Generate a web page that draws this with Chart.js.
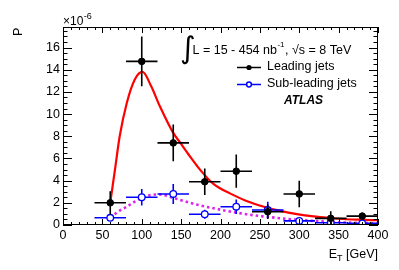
<!DOCTYPE html>
<html>
<head>
<meta charset="utf-8">
<script src="https://cdn.jsdelivr.net/npm/chart.js@4.4.0/dist/chart.umd.min.js"></script>
<style>
  html, body { margin: 0; padding: 0; background: #fff; }
  #wrap { width: 399px; height: 270px; }
</style>
</head>
<body>
<div id="wrap"><canvas id="c" width="399" height="270"></canvas></div>
<script>
// bins (GeV)
const binCenters = [60, 100, 140, 180, 220, 260, 300, 340, 380];
const binHalfWidth = [20, 20, 20, 20, 20, 20, 20, 20, 20];

// measured P values (x 1e-6)
const leading = [2.0, 14.75, 7.4, 3.9, 4.85, 1.2, 2.8, 0.6, 0.8];
const leadingErr = [1.05, 2.25, 1.65, 1.2, 1.5, 0.65, 1.2, 0.65, 0.3];
const subLeading = [0.65, 2.5, 2.8, 0.97, 1.65, 1.35, 0.37, 0.2, 0.15];
const subLeadingErr = [0.25, 0.75, 0.9, 0.4, 0.65, 0.75, 0.2, 0.15, 0.1];

// fitted curves
const fitX = [60, 66, 72, 81, 91, 101, 112, 123, 140, 149, 159, 175, 191, 212, 233, 255, 276, 297, 318, 339, 360, 380, 400];
const fitLeading = [2.0, 5.0, 8.0, 11.0, 13.1, 13.8, 12.5, 10.7, 8.3, 7.4, 6.4, 4.9, 3.7, 2.85, 2.17, 1.65, 1.27, 0.98, 0.77, 0.63, 0.52, 0.47, 0.43];
const fitSubLeading = [0.67, 1.0, 1.3, 1.65, 2.1, 2.48, 2.7, 2.75, 2.45, 2.25, 2.05, 1.75, 1.51, 1.22, 0.97, 0.77, 0.61, 0.48, 0.37, 0.29, 0.22, 0.18, 0.15];

const xTicks = [0, 50, 100, 150, 200, 250, 300, 350, 400];
const yTicks = [0, 2, 4, 6, 8, 10, 12, 14, 16];

const FONT = '"Liberation Sans", Arial, Helvetica, sans-serif';

function pts(xs, ys) {
    return xs.map((x, i) => ({ x: x, y: ys[i] }));
}

// error bars, drawn just before each marker dataset
const errorBars = {
    id: 'errorBars',
    beforeDatasetDraw(chart, args) {
        const ds = chart.data.datasets[args.index];
        if (!ds.errY) return;
        const xs = chart.scales.x, ys = chart.scales.y;
        const ctx = chart.ctx;
        ctx.save();
        ctx.strokeStyle = ds.errColor;
        ctx.lineWidth = 1.6;
        ds.data.forEach((p, i) => {
            const px = xs.getPixelForValue(p.x);
            const py = ys.getPixelForValue(p.y);
            ctx.beginPath();
            ctx.moveTo(xs.getPixelForValue(p.x - ds.errX[i]), py);
            ctx.lineTo(xs.getPixelForValue(p.x + ds.errX[i]), py);
            ctx.moveTo(px, ys.getPixelForValue(Math.max(0, p.y - ds.errY[i])));
            ctx.lineTo(px, ys.getPixelForValue(p.y + ds.errY[i]));
            ctx.stroke();
        });
        ctx.restore();
    }
};

// ROOT style frame, inward ticks and the extra text
const decorations = {
    id: 'decorations',
    afterDraw(chart) {
        const ctx = chart.ctx;
        const a = chart.chartArea;
        const xs = chart.scales.x, ys = chart.scales.y;
        ctx.save();
        ctx.strokeStyle = '#000';
        ctx.lineWidth = 1;
        ctx.strokeRect(a.left + 0.5, a.top + 0.5, a.right - a.left - 1, a.bottom - a.top - 1);

        ctx.beginPath();
        for (let v = 0; v <= 400; v += 10) {
            const px = Math.round(xs.getPixelForValue(v)) + 0.5;
            const len = v % 50 === 0 ? 6 : 3;
            ctx.moveTo(px, a.bottom); ctx.lineTo(px, a.bottom - len);
            ctx.moveTo(px, a.top); ctx.lineTo(px, a.top + len);
        }
        for (let v = 0; v <= 17.8; v += 0.5) {
            const py = Math.round(ys.getPixelForValue(v)) + 0.5;
            const len = v % 2 === 0 ? 9 : 4.5;
            ctx.moveTo(a.left, py); ctx.lineTo(a.left + len, py);
            ctx.moveTo(a.right, py); ctx.lineTo(a.right - len, py);
        }
        ctx.stroke();

        ctx.fillStyle = '#000';
        ctx.textBaseline = 'alphabetic';

        // y title
        ctx.save();
        ctx.translate(22, 36);
        ctx.rotate(-Math.PI / 2);
        ctx.font = '12.5px ' + FONT;
        ctx.textAlign = 'left';
        ctx.fillText('P', 0, 0);
        ctx.restore();

        // exponent
        ctx.textAlign = 'left';
        ctx.font = '12px ' + FONT;
        ctx.fillText('\u00d710', 63, 25);
        let w = ctx.measureText('\u00d710').width;
        ctx.font = '9px ' + FONT;
        ctx.fillText('-6', 63 + w + 0.5, 19);

        // x title, right aligned with the frame
        ctx.font = '12.5px ' + FONT;
        const wE = ctx.measureText('E').width;
        const rest = ' [GeV]';
        const wR = ctx.measureText(rest).width;
        ctx.font = '9px ' + FONT;
        const wT = ctx.measureText('T').width;
        let x0 = a.right - (wE + wT + wR);
        ctx.font = '12.5px ' + FONT;
        ctx.fillText('E', x0, 258);
        ctx.font = '9px ' + FONT;
        ctx.fillText('T', x0 + wE, 261);
        ctx.font = '12.5px ' + FONT;
        ctx.fillText(rest, x0 + wE + wT, 258);

        // luminosity header
        ctx.font = '30px "DejaVu Sans", sans-serif';
        ctx.fillText('\u222b', 180, 58);
        ctx.font = '12.5px ' + FONT;
        let tx = 192.5;
        ctx.fillText('L = 15 - 454 nb', tx, 53.5);
        tx += ctx.measureText('L = 15 - 454 nb').width;
        ctx.font = '8px ' + FONT;
        ctx.fillText('-1', tx + 0.5, 47);
        tx += ctx.measureText('-1').width + 1;
        ctx.font = '12.5px ' + FONT;
        ctx.fillText(', \u221as = 8 TeV', tx, 53.5);

        // legend entries
        ctx.lineWidth = 1.5;
        ctx.strokeStyle = '#000';
        ctx.beginPath(); ctx.moveTo(237, 67.5); ctx.lineTo(261, 67.5); ctx.stroke();
        ctx.beginPath(); ctx.arc(249, 67.5, 2.6, 0, Math.PI * 2); ctx.fill();
        ctx.strokeStyle = '#0000ff';
        ctx.beginPath(); ctx.moveTo(237, 84.5); ctx.lineTo(261, 84.5); ctx.stroke();
        ctx.fillStyle = '#fff';
        ctx.beginPath(); ctx.arc(249, 84.5, 2.4, 0, Math.PI * 2); ctx.fill(); ctx.stroke();
        ctx.fillStyle = '#000';
        ctx.font = '12.5px ' + FONT;
        ctx.textBaseline = 'middle';
        ctx.fillText('Leading jets', 267, 67);
        ctx.fillText('Sub-leading jets', 267, 84);
        ctx.font = 'italic bold 12px ' + FONT;
        ctx.fillText('ATLAS', 284, 101);
        ctx.restore();
    }
};

const ctx = document.getElementById('c').getContext('2d');
new Chart(ctx, {
    type: 'line',
    data: {
        datasets: [
            {
                label: 'Leading jets',
                data: pts(binCenters, leading),
                errX: binHalfWidth,
                errY: leadingErr,
                errColor: '#000',
                showLine: false,
                pointStyle: 'circle',
                pointRadius: 3.3,
                pointBackgroundColor: '#000',
                pointBorderColor: '#000',
                pointBorderWidth: 1,
                order: 1
            },
            {
                label: 'Sub-leading jets',
                data: pts(binCenters, subLeading),
                errX: binHalfWidth,
                errY: subLeadingErr,
                errColor: '#0000ff',
                showLine: false,
                pointStyle: 'circle',
                pointRadius: 3.3,
                pointBackgroundColor: '#fff',
                pointBorderColor: '#0000ff',
                pointBorderWidth: 1.3,
                order: 2
            },
            {
                label: 'Leading fit',
                data: pts(fitX, fitLeading),
                borderColor: '#ff0000',
                borderWidth: 2.2,
                pointRadius: 0,
                fill: false,
                cubicInterpolationMode: 'monotone',
                order: 3
            },
            {
                label: 'Sub-leading fit',
                data: pts(fitX, fitSubLeading),
                borderColor: '#dd22ee',
                borderWidth: 2.6,
                borderDash: [2.5, 3],
                pointRadius: 0,
                fill: false,
                cubicInterpolationMode: 'monotone',
                order: 4
            }
        ]
    },
    options: {
        responsive: false,
        animation: false,
        devicePixelRatio: 1,
        layout: { padding: { top: 27, right: 21, left: 0, bottom: 0 } },
        plugins: {
            legend: { display: false },
            title: { display: false },
            tooltip: { enabled: false }
        },
        scales: {
            x: {
                type: 'linear',
                min: 0,
                max: 400,
                afterFit: s => { s.height = 45; },
                afterBuildTicks: s => { s.ticks = xTicks.map(v => ({ value: v })); },
                grid: { display: false, drawTicks: false },
                border: { display: false },
                ticks: {
                    autoSkip: false,
                    maxRotation: 0,
                    padding: 3,
                    color: '#000',
                    font: { family: FONT, size: 12.5 }
                }
            },
            y: {
                type: 'linear',
                min: 0,
                max: 17.85,
                afterFit: s => { s.width = 63; },
                afterBuildTicks: s => { s.ticks = yTicks.map(v => ({ value: v })); },
                grid: { display: false, drawTicks: false },
                border: { display: false },
                ticks: {
                    autoSkip: false,
                    padding: 3,
                    color: '#000',
                    font: { family: FONT, size: 12.5 }
                }
            }
        }
    },
    plugins: [errorBars, decorations]
});
</script>
</body>
</html>
